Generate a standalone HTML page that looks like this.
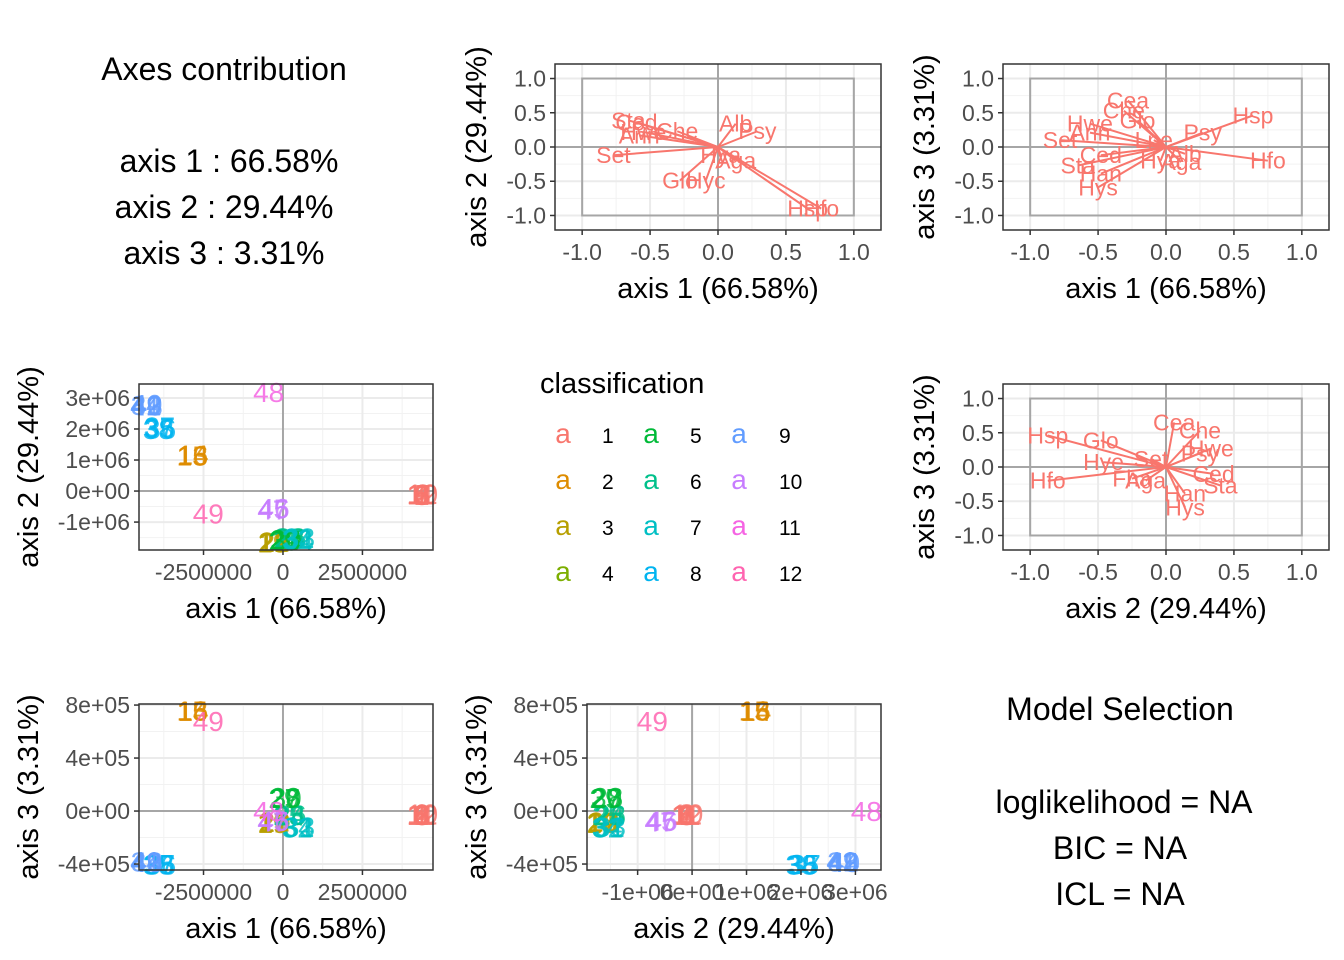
<!DOCTYPE html>
<html><head><meta charset="utf-8"><style>
body{margin:0;background:#fff;}
svg{display:block;font-family:"Liberation Sans",Arial,sans-serif;}
</style></head><body>
<svg id="fig" width="1344" height="960" viewBox="0 0 1344 960" xmlns="http://www.w3.org/2000/svg">
<rect width="1344" height="960" fill="#fff"/>
<g font-size="32" text-anchor="middle" fill="#000">
<text x="224" y="80">Axes contribution</text>
<text x="229" y="172">axis 1 : 66.58%</text>
<text x="224" y="218">axis 2 : 29.44%</text>
<text x="224" y="264">axis 3 : 3.31%</text>
</g>
<g font-size="32" text-anchor="middle" fill="#000">
<text x="1120" y="720">Model Selection</text>
<text x="1124" y="813">loglikelihood = NA</text>
<text x="1120" y="859">BIC = NA</text>
<text x="1120" y="905">ICL = NA</text>
</g>
<g id="legend"></g>
</svg>
<script>
// ---------- data ----------
const classColors = ["#F8766D","#DE8C00","#B79F00","#7CAE00","#00BA38","#00C08B","#00BFC4","#00B4F0","#619CFF","#C77CFF","#F564E3","#FF64B0"];
const obsIds   = [1,2,3,4,5,6,7,8,9,10,11,12,13,14,15,16,17,18,19,20,21,22,23,24,25,26,27,28,29,30,31,32,33,34,35,36,37,38,39,40,41,42,43,44,45,46,47,48,49];
const obsClass = [1,1,1,1,1,1,1,1,1,1,1,1,2,2,2,2,3,3,3,3,3,3,6,6,6,6,5,5,5,5,7,7,7,7,8,8,8,8,9,9,9,9,9,9,10,10,10,11,12];
const obsAx1 = [4.35e6,4.37e6,4.4e6,4.36e6,4.38e6,4.35e6,4.4e6,4.37e6,4.36e6,4.39e6,4.35e6,4.38e6,-2.85e6,-2.83e6,-2.86e6,-2.84e6,-0.3e6,-0.28e6,-0.32e6,-0.25e6,-0.3e6,-0.27e6,0.2e6,0.22e6,0.18e6,0.25e6,0.05e6,0.08e6,0.03e6,0.1e6,0.5e6,0.45e6,0.52e6,0.48e6,-3.9e6,-3.85e6,-3.88e6,-3.92e6,-4.3e6,-4.28e6,-4.32e6,-4.3e6,-4.27e6,-4.31e6,-0.3e6,-0.28e6,-0.32e6,-0.45e6,-2.35e6];
const obsAx2 = [-0.1e6,-0.12e6,-0.08e6,-0.1e6,-0.11e6,-0.09e6,-0.1e6,-0.12e6,-0.1e6,-0.08e6,-0.11e6,-0.1e6,1.15e6,1.17e6,1.14e6,1.16e6,-1.65e6,-1.63e6,-1.66e6,-1.64e6,-1.65e6,-1.62e6,-1.5e6,-1.52e6,-1.55e6,-1.5e6,-1.58e6,-1.55e6,-1.6e6,-1.57e6,-1.52e6,-1.55e6,-1.5e6,-1.56e6,2.05e6,2.02e6,2.08e6,2.0e6,2.77e6,2.8e6,2.75e6,2.78e6,2.76e6,2.79e6,-0.57e6,-0.55e6,-0.59e6,3.2e6,-0.73e6];
const obsAx3 = [-0.3e5,-0.2e5,-0.3e5,-0.25e5,-0.3e5,-0.2e5,-0.3e5,-0.25e5,-0.3e5,-0.2e5,-0.3e5,-0.25e5,7.6e5,7.55e5,7.6e5,7.58e5,-0.85e5,-0.8e5,-0.9e5,-0.82e5,-0.85e5,-0.8e5,-0.3e5,-0.35e5,-0.3e5,-0.25e5,1.0e5,1.05e5,0.98e5,1.02e5,-1.2e5,-1.25e5,-1.15e5,-1.2e5,-4.0e5,-4.05e5,-3.98e5,-4.02e5,-3.8e5,-3.85e5,-3.78e5,-3.82e5,-3.8e5,-3.83e5,-0.75e5,-0.7e5,-0.8e5,0.0,6.8e5];

const varsA = ["Set","Sta","Ced","Ann","Hwe","Che","Alb","Psy","Aga","Hya","Glo","Hyc","Hsp","Hfo"];
const loadA1 = [-0.77,-0.66,-0.6,-0.58,-0.55,-0.3,0.13,0.29,0.13,0.02,-0.28,-0.09,0.66,0.76];
const loadA2 = [-0.12,0.39,0.36,0.17,0.22,0.23,0.34,0.23,-0.2,-0.12,-0.49,-0.49,-0.9,-0.9];

const varsB = ["Cea","Che","Glo","Hwe","Ann","Set","Ced","Sta","Han","Hys","Psy","Hsp","Hfo","Alb","Aga","Hya","Lne"];
const loadB1 = [-0.28,-0.31,-0.21,-0.56,-0.56,-0.78,-0.48,-0.65,-0.48,-0.5,0.27,0.64,0.75,0.14,0.11,-0.04,-0.09];
const loadB3 = [0.68,0.53,0.39,0.34,0.21,0.1,-0.12,-0.27,-0.39,-0.59,0.21,0.46,-0.2,-0.1,-0.22,-0.2,0.1];

const varsC = ["Hsp","Glo","Hye","Hfo","Aga","Fha","Cea","Che","Hwe","Psy","Ced","Sta","Han","Hys","Set"];
const loadC2 = [-0.87,-0.48,-0.46,-0.87,-0.15,-0.25,0.06,0.25,0.33,0.25,0.35,0.4,0.14,0.14,-0.11];
const loadC3 = [0.46,0.39,0.07,-0.2,-0.2,-0.17,0.65,0.53,0.27,0.2,-0.1,-0.27,-0.39,-0.59,0.12];

const arrowTicks = [-1.0,-0.5,0.0,0.5,1.0];
const arrowTickLabels = ["-1.0","-0.5","0.0","0.5","1.0"];
const ax1Ticks = [-2500000,0,2500000];
const ax1TickLabels = ["-2500000","0","2500000"];
const ax2TicksL = [-1e6,0,1e6,2e6,3e6];
const ax2TickLabelsL = ["-1e+06","0e+00","1e+06","2e+06","3e+06"];
const ax3Ticks = [-4e5,0,4e5,8e5];
const ax3TickLabels = ["-4e+05","0e+00","4e+05","8e+05"];
const ax2TicksB = [-1e6,0,1e6,2e6,3e6];
const ax2TickLabelsB = ["-1e+06","0e+00","1e+06","2e+06","3e+06"];

// ---------- helpers ----------
const NS="http://www.w3.org/2000/svg";
const svg=document.getElementById('fig');
function mk(tag,attrs,parent){const e=document.createElementNS(NS,tag);for(const k in attrs)e.setAttribute(k,attrs[k]);(parent||svg).appendChild(e);return e;}

function panel(cfg){
  const g=mk('g',{});
  
  
  const {x0,y0,w,h,xlim,ylim}=cfg;
  const sx=v=>x0+(v-xlim[0])/(xlim[1]-xlim[0])*w;
  const sy=v=>y0+h-(v-ylim[0])/(ylim[1]-ylim[0])*h;
  mk('rect',{x:x0,y:y0,width:w,height:h,fill:'#fff'},g);
  const minor=(ticks)=>{const st=ticks[1]-ticks[0];const out=[];for(let t=ticks[0]-st/2;t<=ticks[ticks.length-1]+st;t+=st)out.push(t);return out;};
  const clip=(v,a,b)=>v>=Math.min(a,b)&&v<=Math.max(a,b);
  minor(cfg.xt).forEach(t=>{const X=sx(t);if(clip(X,x0,x0+w))mk('line',{x1:X,x2:X,y1:y0,y2:y0+h,stroke:'#f2f2f2','stroke-width':1},g);});
  minor(cfg.yt).forEach(t=>{const Y=sy(t);if(clip(Y,y0,y0+h))mk('line',{x1:x0,x2:x0+w,y1:Y,y2:Y,stroke:'#f2f2f2','stroke-width':1},g);});
  cfg.xt.forEach(t=>{const X=sx(t);mk('line',{x1:X,x2:X,y1:y0,y2:y0+h,stroke:'#ebebeb','stroke-width':2},g);});
  cfg.yt.forEach(t=>{const Y=sy(t);mk('line',{x1:x0,x2:x0+w,y1:Y,y2:Y,stroke:'#ebebeb','stroke-width':2},g);});
  mk('line',{x1:sx(0),x2:sx(0),y1:y0,y2:y0+h,stroke:'#a6a6a6','stroke-width':2},g);
  mk('line',{x1:x0,x2:x0+w,y1:sy(0),y2:sy(0),stroke:'#a6a6a6','stroke-width':2},g);
  if(cfg.unitBox){mk('rect',{x:sx(-1),y:sy(1),width:sx(1)-sx(-1),height:sy(-1)-sy(1),fill:'none',stroke:'#a6a6a6','stroke-width':2},g);}
  if(cfg.draw)cfg.draw(g,sx,sy);
  mk('rect',{x:x0,y:y0,width:w,height:h,fill:'none',stroke:'#333','stroke-width':1.5},g);
  cfg.xt.forEach((t,i)=>{const X=sx(t);mk('line',{x1:X,x2:X,y1:y0+h,y2:y0+h+5,stroke:'#333','stroke-width':1.5},g);
    const tx=mk('text',{x:X,y:y0+h+30,'text-anchor':'middle','font-size':23,fill:'#4d4d4d'},g);tx.textContent=cfg.xl[i];});
  cfg.yt.forEach((t,i)=>{const Y=sy(t);mk('line',{x1:x0-5,x2:x0,y1:Y,y2:Y,stroke:'#333','stroke-width':1.5},g);
    const tx=mk('text',{x:x0-9,y:Y+8,'text-anchor':'end','font-size':23,fill:'#4d4d4d'},g);tx.textContent=cfg.yl[i];});
  const xt=mk('text',{x:x0+w/2,y:y0+h+68,'text-anchor':'middle','font-size':29,fill:'#000'},g);xt.textContent=cfg.xtitle;
  
  
  const yx=cfg.ytx, yy=y0+h/2;
  const yt=mk('text',{x:yx,y:yy,'text-anchor':'middle','font-size':29,fill:'#000',transform:`rotate(-90 ${yx} ${yy})`},g);yt.textContent=cfg.ytitle;
  
  
}

function arrows(names,a,b){
  return (g,sx,sy)=>{
    names.forEach((n,i)=>{
      const l=mk('line',{x1:sx(0),y1:sy(0),x2:sx(a[i]),y2:sy(b[i]),stroke:'#F8766D','stroke-width':2},g);
      
      
      const t=mk('text',{x:sx(a[i]),y:sy(b[i])+8,'text-anchor':'middle','font-size':23,fill:'#F8766D'},g);
      t.textContent=n;
      
      
    });
  };
}
function points(xs,ys){
  return (g,sx,sy)=>{
    obsIds.forEach((id,i)=>{
      const t=mk('text',{x:sx(xs[i]),y:sy(ys[i])+10,'text-anchor':'middle','font-size':28,fill:classColors[obsClass[i]-1],'fill-opacity':0.85},g);
      t.textContent=String(id);
      
      
    });
  };
}

const AL=[-1.2,1.2];
panel({name:'loadings-axis1-axis2',x0:555,y0:64,w:326,h:166,xlim:AL,ylim:[-1.212,1.212],xt:arrowTicks,xl:arrowTickLabels,yt:arrowTicks,yl:arrowTickLabels,unitBox:true,xtitle:'axis 1 (66.58%)',ytitle:'axis 2 (29.44%)',ytx:486,draw:arrows(varsA,loadA1,loadA2)});
panel({name:'loadings-axis1-axis3',x0:1003,y0:64,w:326,h:166,xlim:AL,ylim:[-1.212,1.212],xt:arrowTicks,xl:arrowTickLabels,yt:arrowTicks,yl:arrowTickLabels,unitBox:true,xtitle:'axis 1 (66.58%)',ytitle:'axis 3 (3.31%)',ytx:934,draw:arrows(varsB,loadB1,loadB3)});
panel({name:'loadings-axis2-axis3',x0:1003,y0:384,w:326,h:166,xlim:AL,ylim:[-1.212,1.212],xt:arrowTicks,xl:arrowTickLabels,yt:arrowTicks,yl:arrowTickLabels,unitBox:true,xtitle:'axis 2 (29.44%)',ytitle:'axis 3 (3.31%)',ytx:934,draw:arrows(varsC,loadC2,loadC3)});
panel({name:'scores-axis1-axis2',x0:139,y0:384,w:294,h:166,xlim:[-4.53e6,4.72e6],ylim:[-1.9e6,3.45e6],xt:ax1Ticks,xl:ax1TickLabels,yt:ax2TicksL,yl:ax2TickLabelsL,xtitle:'axis 1 (66.58%)',ytitle:'axis 2 (29.44%)',ytx:38,draw:points(obsAx1,obsAx2)});
panel({name:'scores-axis1-axis3',x0:139,y0:704,w:294,h:166,xlim:[-4.53e6,4.72e6],ylim:[-4.45e5,8.08e5],xt:ax1Ticks,xl:ax1TickLabels,yt:ax3Ticks,yl:ax3TickLabels,xtitle:'axis 1 (66.58%)',ytitle:'axis 3 (3.31%)',ytx:38,draw:points(obsAx1,obsAx3)});
panel({name:'scores-axis2-axis3',x0:587,y0:704,w:294,h:166,xlim:[-1.93e6,3.47e6],ylim:[-4.45e5,8.08e5],xt:ax2TicksB,xl:ax2TickLabelsB,yt:ax3Ticks,yl:ax3TickLabels,xtitle:'axis 2 (29.44%)',ytitle:'axis 3 (3.31%)',ytx:486,draw:points(obsAx2,obsAx3)});

// legend
const lg=document.getElementById('legend');
const lt=mk('text',{x:540,y:393,'font-size':29,fill:'#000'},lg);lt.textContent='classification';
classColors.forEach((c,i)=>{
  const col=Math.floor(i/4),row=i%4;
  const ax=[563,651,739][col],nx=[602,690,779][col],y=443+row*46;
  const a=mk('text',{x:ax,y:y,'text-anchor':'middle','font-size':28,fill:c},lg);a.textContent='a';
  
  
  const n=mk('text',{x:nx,y:y,'font-size':21,fill:'#000'},lg);n.textContent=String(i+1);
  
  
});
</script>
</body></html>
